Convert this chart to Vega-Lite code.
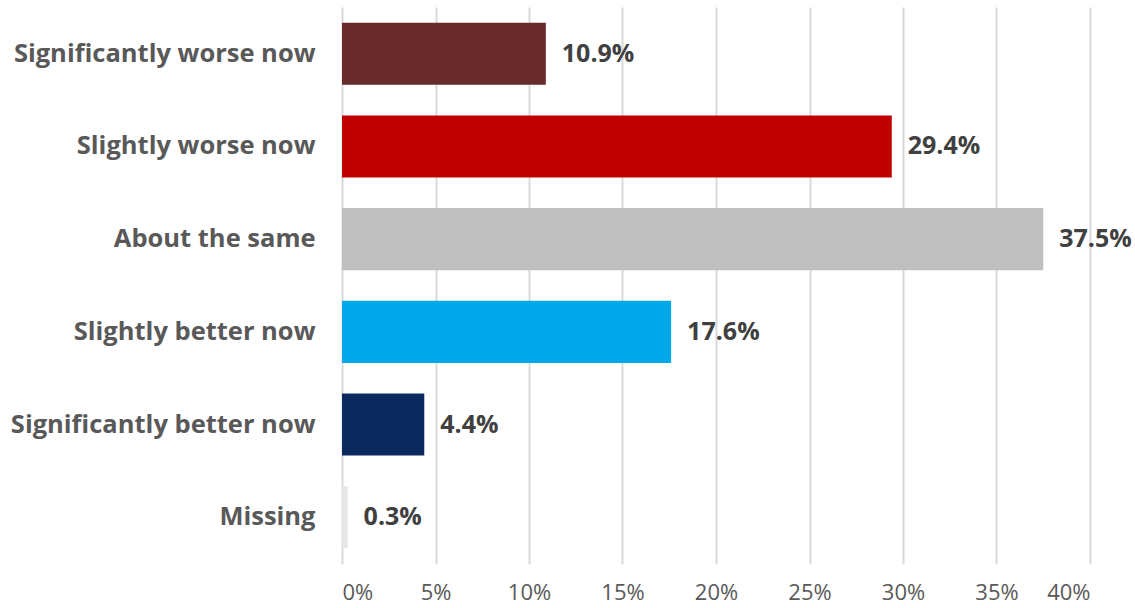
{
  "$schema": "https://vega.github.io/schema/vega-lite/v6.json",
  "width": 748,
  "height": 557,
  "autosize": {"type": "none"},
  "padding": {"left": 342, "top": 7, "right": 45, "bottom": 44},
  "background": "white",
  "config": {"view": {"stroke": null}, "font": "Open Sans"},
  "data": {
    "values": [
      {"category": "Significantly worse now", "value": 0.109, "color": "#692a2b"},
      {"category": "Slightly worse now", "value": 0.294, "color": "#c00000"},
      {"category": "About the same", "value": 0.375, "color": "#bfbfbf"},
      {"category": "Slightly better now", "value": 0.176, "color": "#00a8ea"},
      {"category": "Significantly better now", "value": 0.044, "color": "#0a2a5e"},
      {"category": "Missing", "value": 0.003, "color": "#e6e6e6"}
    ]
  },
  "encoding": {
    "y": {
      "field": "category",
      "type": "nominal",
      "sort": null,
      "scale": {"paddingInner": 0.33, "paddingOuter": 0.17},
      "axis": {
        "title": null,
        "domain": false,
        "ticks": false,
        "labelPadding": 27,
        "labelFontSize": 25.5,
        "labelFontWeight": "bold",
        "labelColor": "#595959",
        "labelLimit": 400
      }
    },
    "x": {
      "field": "value",
      "type": "quantitative",
      "scale": {"domain": [0, 0.4], "nice": false},
      "axis": {
        "title": null,
        "values": [0, 0.05, 0.1, 0.15, 0.2, 0.25, 0.3, 0.35, 0.4],
        "format": ".0%",
        "domain": false,
        "ticks": false,
        "grid": true,
        "gridColor": "#d9d9d9",
        "gridWidth": 2,
        "labelBaseline": "middle",
        "labelPadding": 28,
        "labelFontSize": 22,
        "labelColor": "#595959"
      }
    }
  },
  "layer": [
    {
      "mark": {"type": "bar"},
      "encoding": {
        "color": {"field": "color", "type": "nominal", "scale": null, "legend": null}
      }
    },
    {
      "mark": {"type": "text", "align": "left", "baseline": "middle", "dx": 16, "fontSize": 25, "fontWeight": "bold", "color": "#404040"},
      "encoding": {
        "text": {"field": "value", "type": "quantitative", "format": ".1%"}
      }
    }
  ]
}
